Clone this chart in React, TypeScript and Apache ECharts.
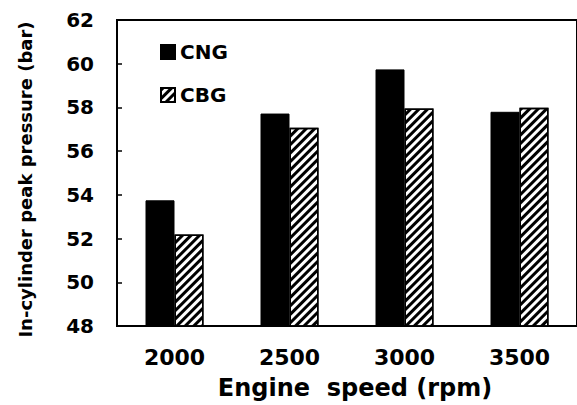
import React, { useEffect, useRef } from "react";
import * as echarts from "echarts";

const categories = ["2000", "2500", "3000", "3500"];
const cngValues = [53.75, 57.72, 59.74, 57.8];
const cbgValues = [52.19, 57.07, 57.95, 57.98];
const yMin = 48;
const yMax = 62;
const yInterval = 2;

const FONT = "DejaVu Sans";

export default function App() {
  const ref = useRef<HTMLDivElement>(null);
  useEffect(() => {
    if (!ref.current) return;
    const chart = echarts.init(ref.current, undefined, { renderer: "svg" });
    chart.setOption({
      animation: false,
      backgroundColor: "#fff",
      grid: {
        left: 117,
        top: 20,
        width: 462,
        height: 308,
        show: true,
        borderColor: "#000",
        borderWidth: 2,
        backgroundColor: "transparent",
      },
      legend: {
        orient: "vertical",
        left: 160,
        top: 42,
        padding: 0,
        itemWidth: 14,
        itemHeight: 14,
        itemGap: 23,
        icon: "rect",
        textStyle: {
          fontFamily: FONT,
          fontWeight: "bold",
          fontSize: 20,
          lineHeight: 20,
          color: "#000",
        },
        data: ["CNG", "CBG"],
      },
      xAxis: {
        type: "category",
        data: categories,
        axisLine: { show: true, lineStyle: { color: "#000", width: 2 } },
        axisTick: { show: false },
        axisLabel: {
          margin: 20,
          fontFamily: FONT,
          fontWeight: "bold",
          fontSize: 22,
          color: "#000",
        },
        name: "Engine  speed (rpm)",
        nameLocation: "middle",
        nameGap: 50,
        nameTextStyle: {
          fontFamily: FONT,
          fontWeight: "bold",
          fontSize: 24,
          color: "#000",
          padding: [0, 0, 0, 16],
        },
      },
      yAxis: {
        type: "value",
        min: yMin,
        max: yMax,
        interval: yInterval,
        splitLine: { show: false },
        axisLine: { show: true, lineStyle: { color: "#000", width: 2 } },
        axisTick: { show: true, inside: true, length: 5, lineStyle: { color: "#000", width: 1.5 } },
        axisLabel: {
          margin: 23,
          fontFamily: FONT,
          fontWeight: "bold",
          fontSize: 20,
          color: "#000",
        },
        name: "In-cylinder peak pressure (bar)",
        nameLocation: "middle",
        nameGap: 83,
        nameTextStyle: {
          fontFamily: FONT,
          fontWeight: "bold",
          fontSize: 18,
          color: "#000",
          padding: [0, 13, 0, 0],
        },
      },
      series: [
        {
          name: "CNG",
          type: "bar",
          data: cngValues,
          barWidth: 29,
          barGap: "0%",
          itemStyle: { color: "#000", borderColor: "#000", borderWidth: 1 },
        },
        {
          name: "CBG",
          type: "bar",
          data: cbgValues,
          barWidth: 29,
          barGap: "0%",
          itemStyle: {
            color: "#fff",
            borderColor: "#000",
            borderWidth: 1.5,
            decal: {
              symbol: "rect",
              symbolSize: 1,
              dashArrayX: [1, 0],
              dashArrayY: [2.5, 2.7],
              rotation: -Math.PI / 4,
              color: "#000",
            },
          },
        },
      ],
    });
    return () => chart.dispose();
  }, []);
  return (
    <div
      ref={ref}
      style={{ position: "fixed", left: 0, top: 0, width: 577, height: 405 }}
    />
  );
}
